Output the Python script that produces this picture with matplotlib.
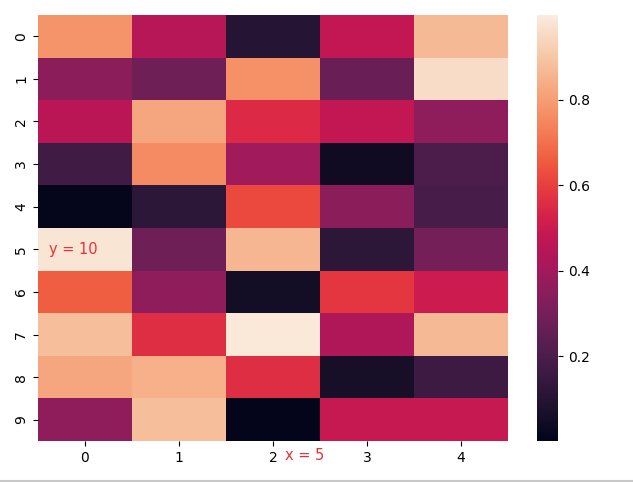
import matplotlib
matplotlib.use('Agg')
import matplotlib.pyplot as plt
import seaborn as sns
import numpy as np

# cell values (10 rows x 5 columns)
row0 = [0.78, 0.45, 0.10, 0.48, 0.87]
row1 = [0.35, 0.28, 0.77, 0.27, 0.96]
row2 = [0.46, 0.82, 0.55, 0.48, 0.36]
row3 = [0.17, 0.76, 0.40, 0.04, 0.20]
row4 = [0.01, 0.12, 0.62, 0.35, 0.19]
row5 = [0.98, 0.28, 0.86, 0.12, 0.30]
row6 = [0.66, 0.36, 0.05, 0.58, 0.50]
row7 = [0.88, 0.56, 0.99, 0.43, 0.87]
row8 = [0.82, 0.85, 0.56, 0.06, 0.16]
row9 = [0.36, 0.88, 0.005, 0.49, 0.49]

data = np.array([row0, row1, row2, row3, row4, row5, row6, row7, row8, row9])

fig = plt.figure(figsize=(6.33, 4.82), dpi=100)
ax = fig.add_axes([0.060, 0.085, 0.7425, 0.884])
cax = fig.add_axes([0.848, 0.085, 0.0335, 0.884])

sns.heatmap(data, ax=ax, cbar_ax=cax, cmap='rocket', vmin=0.001, vmax=0.999)
cax.set_yticks([0.2, 0.4, 0.6, 0.8])

ax.text(0.12, 5.5, 'y = 10', color='#e8303a', fontsize=10.5, va='center')
ax.text(2.63, 10.35, 'x = 5', color='#e8303a', fontsize=10.5, va='center')

# thin grey border line at the bottom of the screenshot
fig.add_artist(plt.Line2D([0, 1], [0.003, 0.003], color='#c8c8c8', lw=1.5))

fig.savefig('out.png', dpi=100)
